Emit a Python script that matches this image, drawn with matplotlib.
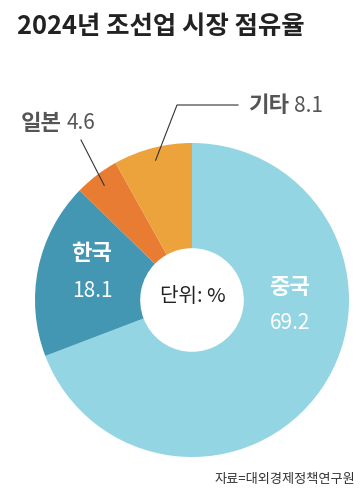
import numpy as np
import matplotlib
matplotlib.use('Agg')
import matplotlib.pyplot as plt

plt.rcParams['font.family'] = ['Noto Sans CJK KR', 'DejaVu Sans']

# data
labels = ['중국', '한국', '일본', '기타']
values = [69.2, 18.1, 4.6, 8.1]
colors = ['#93d5e3', '#4497b2', '#e77c32', '#eca33c']

W, H = 364, 497
fig = plt.figure(figsize=(W / 100, H / 100), dpi=100)
ax = fig.add_axes([0, 0, 1, 1])

cx, cy, r = 192, H - 300, 157
wedges, _ = ax.pie(values, colors=colors, startangle=90, counterclock=False,
                   center=(cx, cy), radius=r,
                   wedgeprops=dict(width=r * 0.67, linewidth=0), frame=True)
ax.set_xlim(0, W)
ax.set_ylim(0, H)
ax.set_aspect('equal')
ax.axis('off')


def mid_point(w, frac):
    ang = np.deg2rad((w.theta1 + w.theta2) / 2)
    return cx + frac * r * np.cos(ang), cy + frac * r * np.sin(ang)


# title and source
fig.text(17 / W, 1 - 26 / H, '2024년 조선업 시장 점유율', fontsize=18.3,
         fontweight='bold', color='#222222', va='center', ha='left')
fig.text(355 / W, 1 - 480 / H, '자료=대외경제정책연구원', fontsize=9.5,
         color='#333333', va='center', ha='right')

# center label
ax.text(cx + 1, cy + 3, '단위: %', fontsize=14.5, color='#222222', ha='center', va='center')

# inside labels
ax.text(290, H - 287, '중국', fontsize=16, fontweight='bold', color='white', ha='center', va='center')
ax.text(290, H - 323, f'{values[0]}', fontsize=15, fontweight='light', color='white', ha='center', va='center')
ax.text(92, H - 254, '한국', fontsize=16, fontweight='bold', color='white', ha='center', va='center')
ax.text(92, H - 291, f'{values[1]}', fontsize=15, fontweight='light', color='white', ha='center', va='center')

# outside labels with leader lines
x0, y0 = mid_point(wedges[3], 0.92)
ax.plot([x0, 177, 238], [y0, H - 105, H - 105], color='#333333', lw=0.8)
ax.text(249, H - 106, labels[3], fontsize=16, fontweight='bold', color='#555555', ha='left', va='center')
ax.text(294, H - 106, f'{values[3]}', fontsize=15, fontweight='light', color='#555555', ha='left', va='center')

x1, y1 = mid_point(wedges[2], 0.92)
ax.plot([81, x1], [H - 140, y1], color='#333333', lw=0.8)
ax.text(21, H - 123, labels[2], fontsize=16, fontweight='bold', color='#555555', ha='left', va='center')
ax.text(67, H - 123, f'{values[2]}', fontsize=15, fontweight='light', color='#555555', ha='left', va='center')

fig.savefig('out.png', dpi=100)
